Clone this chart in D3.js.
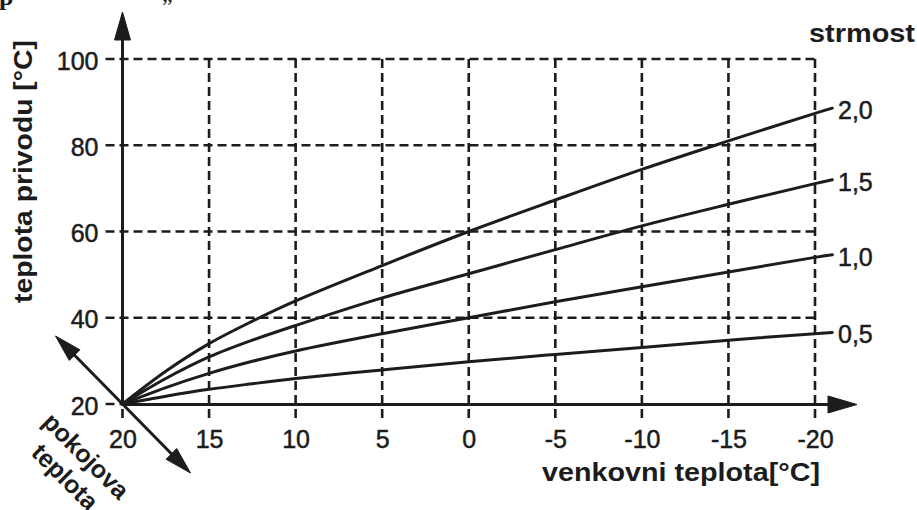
<!DOCTYPE html>
<html><head><meta charset="utf-8">
<script src="https://cdn.jsdelivr.net/npm/d3@7"></script>
<style>body{margin:0;background:#fff}svg{display:block}</style>
</head><body><svg id="c" width="917" height="510"></svg>
<script>
// ---- data ----
const outdoor  = [20, 17.5, 15, 12.5, 10, 5, 0, -5, -10, -15, -20, -21];
const curve20  = [20, 27.6, 34.0, 39.2, 43.9, 52.1, 60.0, 67.3, 74.4, 81.0, 87.4, 88.6];
const curve15  = [20, 25.9, 30.9, 34.8, 38.2, 44.6, 50.2, 55.8, 61.3, 66.3, 71.1, 72.0];
const curve10  = [20, 23.8, 27.1, 29.9, 32.3, 36.3, 40.0, 43.7, 47.2, 50.6, 54.0, 54.6];
const curve05  = [20, 21.8, 23.4, 24.7, 25.9, 27.9, 29.8, 31.5, 33.1, 34.8, 36.3, 36.6];
const slopeLabels = ["2,0", "1,5", "1,0", "0,5"];
const xTicks = [20, 15, 10, 5, 0, -5, -10, -15, -20];
const yTicks = [20, 40, 60, 80, 100];
const gridX = [15, 10, 5, 0, -5, -10, -15, -20, 20];
const gridY = [40, 60, 80, 100];

const series = [curve20, curve15, curve10, curve05];
const ink = "#1c1c1c";
const FONT = "'Liberation Sans', Arial, Helvetica, sans-serif";

const svg = d3.select("#c");
const x = d3.scaleLinear().domain([20, -20]).range([122.5, 815]);
const y = d3.scaleLinear().domain([20, 100]).range([404, 59]);
const x0 = x(20), y0 = y(20);

// ---- dashed grid ----
const grid = svg.append("g").attr("stroke", ink).attr("stroke-width", 2.6)
  .attr("stroke-dasharray", "9,5").attr("fill", "none");
grid.selectAll("line.h").data(gridY).join("line").attr("class", "h")
  .attr("x1", x0 - 17).attr("x2", x(-20)).attr("y1", d => y(d)).attr("y2", d => y(d));
grid.append("line").attr("x1", x0 - 17).attr("x2", x0).attr("y1", y0).attr("y2", y0);
grid.selectAll("line.v").data(gridX).join("line").attr("class", "v")
  .attr("x1", d => x(d)).attr("x2", d => x(d)).attr("y1", y(100)).attr("y2", y0 + 18);

// ---- axes lines + arrows ----
const ax = svg.append("g").attr("stroke", ink).attr("fill", ink);
ax.append("line").attr("x1", x0).attr("y1", y0 + 1).attr("x2", x0).attr("y2", 40).attr("stroke-width", 3);
ax.append("path").attr("stroke-width", 1).attr("d", `M${x0 - 8},40 L${x0 + 8},40 L${x0},12 Z`);
ax.append("line").attr("x1", x0).attr("y1", y0 + 0.5).attr("x2", 828).attr("y2", y0 + 0.5).attr("stroke-width", 3);
ax.append("path").attr("stroke-width", 1).attr("d", `M828,${y0 - 8} L828,${y0 + 9} L857,${y0 + 0.5} Z`);

// diagonal arrow (room temperature)
const u = [Math.SQRT1_2, Math.SQRT1_2];
const tipA = [x0 - 67, y0 - 68], tipB = [x0 + 68, y0 + 69];
ax.append("line").attr("x1", tipA[0] + 12).attr("y1", tipA[1] + 12)
  .attr("x2", tipB[0] - 12).attr("y2", tipB[1] - 12).attr("stroke-width", 3);
function head(tip, dir) {
  const L = 27, W = 7.5;
  const bx = tip[0] - dir[0] * L, by = tip[1] - dir[1] * L;
  const nx = -dir[1], ny = dir[0];
  return `M${tip[0]},${tip[1]} L${bx + nx * W},${by + ny * W} L${bx - nx * W},${by - ny * W} Z`;
}
ax.append("path").attr("stroke-width", 1).attr("d", head(tipA, [-u[0], -u[1]]));
ax.append("path").attr("stroke-width", 1).attr("d", head(tipB, u));

// ---- curves ----
const line = d3.line().x((d, i) => x(outdoor[i])).y(d => y(d)).curve(d3.curveCatmullRom.alpha(0.5));
svg.append("g").selectAll("path").data(series).join("path")
  .attr("d", d => line(d)).attr("fill", "none").attr("stroke", ink).attr("stroke-width", 3)
  .attr("stroke-linecap", "round");

// curve labels
svg.append("g").selectAll("text").data(series).join("text")
  .attr("x", 838).attr("y", d => y(d[d.length - 1]) + 2)
  .attr("dominant-baseline", "central")
  .attr("font-family", FONT).attr("font-size", 25).attr("fill", ink)
  .attr("stroke", ink).attr("stroke-width", 0.5)
  .text((d, i) => slopeLabels[i]);

// ---- tick labels via axes ----
const xa = svg.append("g").attr("transform", `translate(0,${y0})`)
  .call(d3.axisBottom(x).tickValues(xTicks).tickSize(0).tickPadding(26).tickFormat(d => String(d)));
const ya = svg.append("g").attr("transform", `translate(${x0},0)`)
  .call(d3.axisLeft(y).tickValues(yTicks).tickSize(0).tickPadding(24).tickFormat(d => String(d)));
[xa, ya].forEach(g => {
  g.select(".domain").remove();
  g.selectAll("text").attr("font-family", FONT).attr("font-size", 25).attr("fill", ink)
    .attr("stroke", ink).attr("stroke-width", 0.5);
});
ya.selectAll("text").attr("dy", "0.4em");

// ---- titles ----
const bold = sel => sel.attr("font-family", FONT).attr("font-weight", "bold").attr("font-size", 25).attr("fill", ink);
svg.append("text").call(bold).attr("x", 809).attr("y", 42)
  .attr("textLength", 106).attr("lengthAdjust", "spacingAndGlyphs").text("strmost");
svg.append("text").call(bold).attr("x", 542).attr("y", 481)
  .attr("textLength", 278).attr("lengthAdjust", "spacingAndGlyphs").text("venkovni teplota[°C]");
svg.append("text").call(bold).attr("transform", "translate(32,171.5) rotate(-90)")
  .attr("text-anchor", "middle").attr("textLength", 263).attr("lengthAdjust", "spacingAndGlyphs")
  .text("teplota privodu [°C]");
const rt = svg.append("g").attr("transform", "translate(80,462) rotate(45)");
rt.append("text").call(bold).attr("text-anchor", "middle").attr("x", 0).attr("y", 0).text("pokojova");
rt.append("text").call(bold).attr("text-anchor", "middle").attr("x", 0).attr("y", 29.7).text("teplota");

// ---- page fragments at the top edge ----
svg.append("text").attr("x", -1).attr("y", 5).attr("font-family", "'Liberation Serif', 'Times New Roman', serif")
  .attr("font-weight", "bold").attr("font-size", 26).attr("fill", ink).text("p");
svg.append("text").attr("x", 162).attr("y", 1).attr("font-family", "'Liberation Serif', 'Times New Roman', serif")
  .attr("font-size", 24).attr("fill", ink).text("„");
</script></body></html>
